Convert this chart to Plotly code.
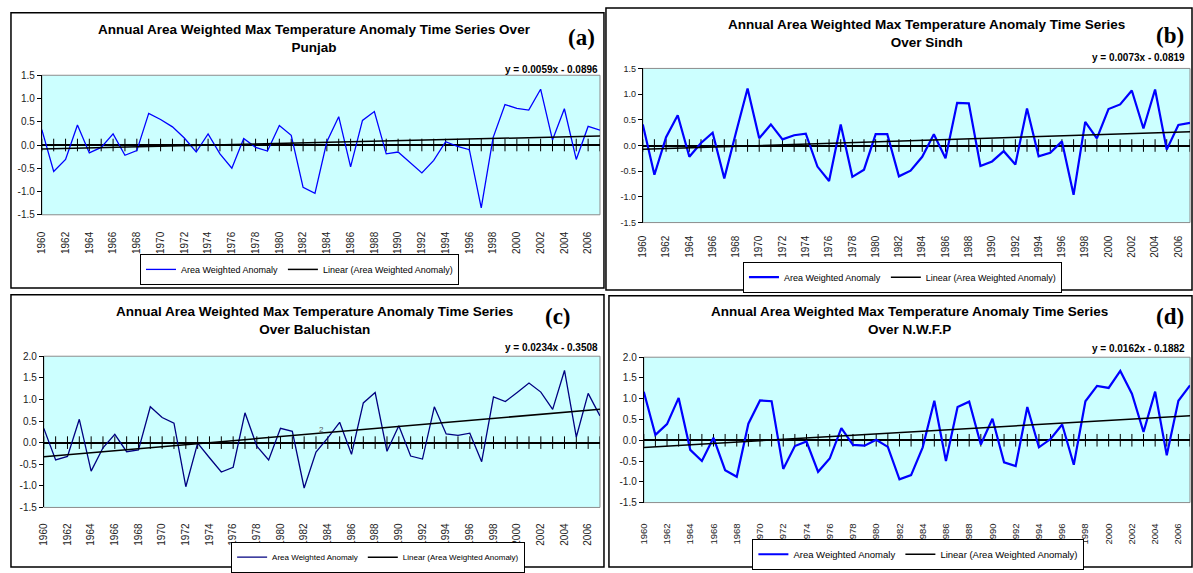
import plotly.graph_objects as go

# ---------------- data ----------------
years = list(range(1960, 2008))
tick_years = list(range(1960, 2008, 2))

punjab = [0.33, -0.57, -0.31, 0.43, -0.17, -0.05, 0.24, -0.22, -0.12, 0.68,
          0.55, 0.39, 0.15, -0.15, 0.24, -0.19, -0.50, 0.14, -0.05, -0.13,
          0.42, 0.21, -0.91, -1.04, 0.07, 0.61, -0.47, 0.53, 0.72, -0.19,
          -0.15, -0.38, -0.60, -0.33, 0.07, -0.03, -0.10, -1.35, 0.16, 0.87,
          0.79, 0.75, 1.20, 0.11, 0.78, -0.31, 0.40, 0.32]

sindh = [0.41, -0.57, 0.16, 0.59, -0.22, 0.05, 0.25, -0.64, 0.25, 1.11,
         0.14, 0.41, 0.12, 0.20, 0.23, -0.41, -0.69, 0.41, -0.61, -0.47,
         0.22, 0.22, -0.60, -0.49, -0.22, 0.22, -0.25, 0.83, 0.82, -0.40,
         -0.31, -0.11, -0.37, 0.72, -0.21, -0.14, 0.08, -0.96, 0.46, 0.14,
         0.71, 0.80, 1.07, 0.33, 1.09, -0.08, 0.40, 0.44]

baluchistan = [0.33, -0.40, -0.32, 0.54, -0.66, -0.12, 0.19, -0.21, -0.17, 0.83,
               0.58, 0.45, -1.02, -0.01, -0.35, -0.68, -0.57, 0.69, -0.08, -0.40,
               0.33, 0.26, -1.05, -0.22, 0.11, 0.47, -0.27, 0.92, 1.16, -0.20,
               0.39, -0.31, -0.38, 0.83, 0.20, 0.17, 0.22, -0.44, 1.06, 0.95,
               1.16, 1.38, 1.17, 0.77, 1.67, 0.13, 1.14, 0.62]

nwfp = [1.17, 0.13, 0.39, 1.02, -0.23, -0.50, 0.06, -0.72, -0.88, 0.40,
        0.96, 0.94, -0.69, -0.14, -0.03, -0.76, -0.44, 0.29, -0.11, -0.13,
        0.01, -0.16, -0.94, -0.84, -0.17, 0.95, -0.50, 0.80, 0.93, -0.10,
        0.52, -0.53, -0.62, 0.80, -0.17, 0.03, 0.38, -0.59, 0.94, 1.31,
        1.26, 1.67, 1.12, 0.20, 1.17, -0.36, 0.95, 1.32]

trend_slope = [0.0059, 0.0073, 0.0234, 0.0162]
trend_intercept = [-0.0896, -0.0819, -0.3508, -0.1882]

titles = [
    "Annual Area Weighted Max Temperature Anomaly Time Series Over<br>Punjab",
    "Annual Area Weighted Max Temperature Anomaly Time Series<br>Over Sindh",
    "Annual Area Weighted Max Temperature Anomaly Time Series<br>Over Baluchistan",
    "Annual Area Weighted Max Temperature Anomaly Time Series<br>Over N.W.F.P",
]
panel_tags = ["(a)", "(b)", "(c)", "(d)"]
y_ticks_ab = [-1.5, -1.0, -0.5, 0.0, 0.5, 1.0, 1.5]
y_ticks_cd = [-1.5, -1.0, -0.5, 0.0, 0.5, 1.0, 1.5, 2.0]
series_name = "Area Weighted Anomaly"
trend_name = "Linear (Area Weighted Anomaly)"

series = [punjab, sindh, baluchistan, nwfp]
yticks = [y_ticks_ab, y_ticks_ab, y_ticks_cd, y_ticks_cd]

# ---------------- layout geometry (pixels) ----------------
W, H = 1193, 573


def fx(p):
    return p / W


def fy(p):
    return 1 - p / H


panels = [
    dict(box=(5, 7, 601, 289), plot=(36, 71, 597, 214), tcx=310, tcy=33, tsz=13.5,
         tag=(578, 32), eq=(597, 65), leg=(295, 270), lfs=9, standoff=14,
         color="#0000FF", lw=1.3, yfs=10, xfs=10),
    dict(box=(603, 2, 1192, 291), plot=(640, 64, 1190, 222), tcx=925, tcy=28, tsz=13.5,
         tag=(1170, 30), eq=(1187, 53), leg=(901, 278), lfs=9, standoff=10,
         color="#0000FF", lw=2.2, yfs=9, xfs=10),
    dict(box=(5, 296, 601, 575), plot=(38, 359, 597, 514), tcx=310, tcy=322, tsz=13.5,
         tag=(555, 318), eq=(597, 350), leg=(374, 565), lfs=8, standoff=13,
         color="#000080", lw=1.3, yfs=10, xfs=10),
    dict(box=(606, 297, 1192, 575), plot=(641, 360, 1190, 509), tcx=908, tcy=322, tsz=13.5,
         tag=(1170, 318), eq=(1187, 351), leg=(917, 562), lfs=9.5, standoff=18,
         color="#0000FF", lw=2.2, yfs=10, xfs=9.5),
]

FONT = "Liberation Sans, Arial, sans-serif"
SERIF = "Liberation Serif, Times New Roman, serif"

fig = go.Figure()
annotations = []
shapes = []
layout = {}

for i, (p, vals, yt) in enumerate(zip(panels, series, yticks)):
    n = i + 1
    xa = "x" if n == 1 else f"x{n}"
    ya = "y" if n == 1 else f"y{n}"
    xkey = "xaxis" if n == 1 else f"xaxis{n}"
    ykey = "yaxis" if n == 1 else f"yaxis{n}"
    lkey = "legend" if n == 1 else f"legend{n}"
    L, T, R, B = p["plot"]

    trend = [trend_slope[i] * (k + 1) + trend_intercept[i] for k in range(len(years))]

    # tick marks across the zero line
    fig.add_trace(go.Scatter(
        x=years, y=[0] * len(years), mode="markers", xaxis=xa, yaxis=ya,
        marker=dict(symbol="line-ns", size=9, line=dict(width=1, color="black")),
        showlegend=False, hoverinfo="skip"))
    fig.add_trace(go.Scatter(
        x=years, y=vals, mode="lines", name=series_name, xaxis=xa, yaxis=ya,
        line=dict(color=p["color"], width=p["lw"]), legend=lkey))
    fig.add_trace(go.Scatter(
        x=years, y=trend, mode="lines", name=trend_name, xaxis=xa, yaxis=ya,
        line=dict(color="black", width=1.5), legend=lkey))

    layout[xkey] = dict(
        domain=[fx(L), fx(R)], range=[years[0], years[-1]], anchor=ya,
        tickmode="array", tickvals=tick_years, ticktext=[str(t) for t in tick_years],
        tickangle=-90, ticks="", ticklabelstandoff=p["standoff"],
        tickfont=dict(family=FONT, size=p["xfs"], color="#222"),
        showline=False, showgrid=False, zeroline=False, fixedrange=True)
    layout[ykey] = dict(
        domain=[fy(B), fy(T)], range=[yt[0], yt[-1]], anchor=xa,
        tickmode="array", tickvals=yt, ticktext=[f"{v:.1f}" for v in yt],
        ticks="outside", ticklen=4, tickcolor="black", tickwidth=1,
        tickfont=dict(family=FONT, size=p["yfs"], color="#222"),
        showline=True, linecolor="black", linewidth=1,
        showgrid=False, zeroline=True, zerolinecolor="black", zerolinewidth=1.6,
        fixedrange=True)
    layout[lkey] = dict(
        x=fx(p["leg"][0]), y=fy(p["leg"][1]), xanchor="center", yanchor="middle",
        orientation="h", bgcolor="white", bordercolor="black", borderwidth=1,
        font=dict(family=FONT, size=p["lfs"], color="black"),
        itemwidth=30, tracegroupgap=0)

    # plot-area border
    shapes.append(dict(type="rect", xref="paper", yref="paper",
                       x0=fx(L), x1=fx(R), y0=fy(B), y1=fy(T),
                       line=dict(color="#8c8c8c", width=1), layer="below"))
    # panel border
    bx0, by0, bx1, by1 = p["box"]
    shapes.append(dict(type="rect", xref="paper", yref="paper",
                       x0=fx(bx0), x1=fx(bx1), y0=fy(by1), y1=fy(by0),
                       line=dict(color="black", width=1.5)))

    annotations.append(dict(
        text="<b>" + titles[i].replace("<br>", "</b><br><b>") + "</b>",
        x=fx(p["tcx"]), y=fy(p["tcy"]), xref="paper", yref="paper",
        xanchor="center", yanchor="middle", showarrow=False,
        font=dict(family=FONT, size=p["tsz"], color="black")))
    annotations.append(dict(
        text="<b>" + panel_tags[i] + "</b>", x=fx(p["tag"][0]), y=fy(p["tag"][1]),
        xref="paper", yref="paper", xanchor="center", yanchor="middle",
        showarrow=False, font=dict(family=SERIF, size=23, color="black")))
    sign = "-" if trend_intercept[i] < 0 else "+"
    annotations.append(dict(
        text=f"<b>y = {trend_slope[i]:.4f}x {sign} {abs(trend_intercept[i]):.4f}</b>",
        x=fx(p["eq"][0]), y=fy(p["eq"][1]), xref="paper", yref="paper",
        xanchor="right", yanchor="middle", showarrow=False,
        font=dict(family=FONT, size=10, color="black")))

# stray label in panel (c)
annotations.append(dict(text="2", x=fx(313), y=fy(441), xref="paper", yref="paper",
                        showarrow=False, font=dict(family=FONT, size=8, color="#555")))

fig.update_layout(
    width=W, height=H, autosize=False,
    margin=dict(l=0, r=0, t=0, b=0),
    paper_bgcolor="white", plot_bgcolor="#CCFFFF",
    annotations=annotations, shapes=shapes,
    hovermode=False,
    **layout)

fig.write_html("out.html", config={"displayModeBar": False})
